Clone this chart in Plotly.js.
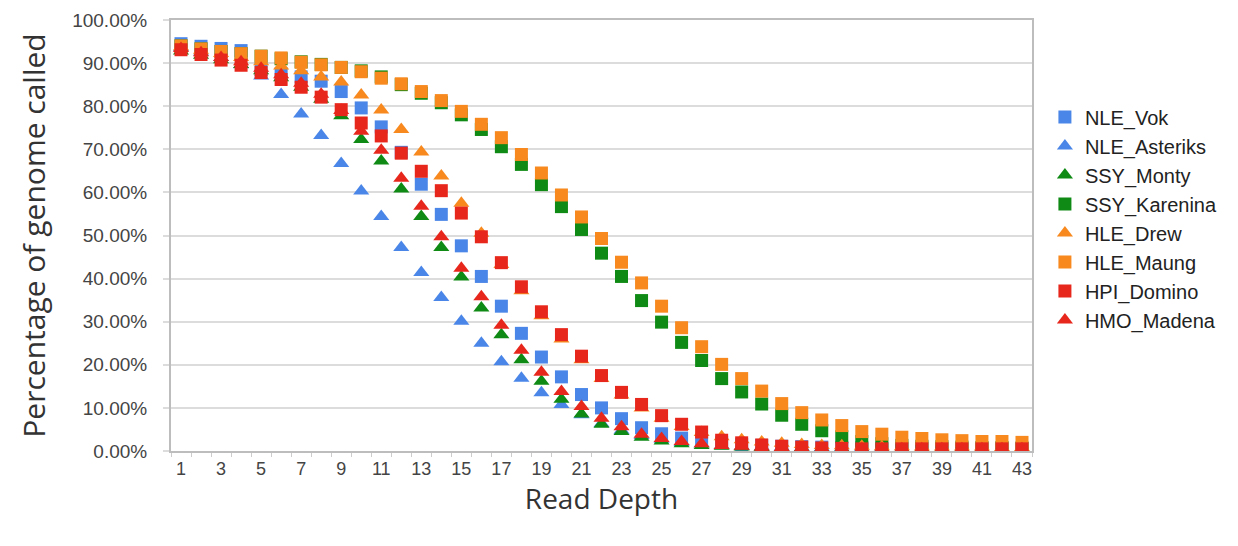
<!DOCTYPE html>
<html>
<head>
<meta charset="utf-8">
<script src="https://cdn.plot.ly/plotly-3.0.1.min.js"></script>
<style>html,body{margin:0;padding:0;background:#fff;}#chart{width:1238px;height:546px;}</style>
</head>
<body>
<div id="chart"></div>
<script>
// Read depth categories
const depths = [1,2,3,4,5,6,7,8,9,10,11,12,13,14,15,16,17,18,19,20,21,22,23,24,25,26,27,28,29,30,31,32,33,34,35,36,37,38,39,40,41,42,43];
const xTickVals = [1,3,5,7,9,11,13,15,17,19,21,23,25,27,29,31,33,35,37,39,41,43];
const yTickVals = [0,10,20,30,40,50,60,70,80,90,100];
const yTickLabels = ['0.00%','10.00%','20.00%','30.00%','40.00%','50.00%','60.00%','70.00%','80.00%','90.00%','100.00%'];

// Percentage of genome called (%)
const NLE_Vok = [94.5,93.9,93.4,92.9,88.5,87.5,86.8,85.8,83.4,79.6,75.2,69.3,61.9,54.9,47.6,40.5,33.6,27.3,21.8,17.2,13.1,10.0,7.5,5.4,4.0,3.0,2.4,1.9,1.5,1.3,1.1,1.0,0.9,0.8,0.8,0.7,0.7,0.7,0.6,0.6,0.6,0.6,0.6];
const NLE_Asteriks = [93.6,92.6,91.3,89.6,87.0,82.7,78.2,73.2,66.7,60.3,54.4,47.2,41.4,35.6,30.1,25.0,20.7,16.9,13.5,10.8,8.4,6.4,4.8,3.6,2.7,2.0,1.6,1.3,1.1,1.0,0.9,0.8,0.8,0.7,0.7,0.7,0.6,0.6,0.6,0.6,0.6,0.6,0.6];
const SSY_Monty = [92.8,91.8,90.8,89.7,88.2,86.6,84.4,81.6,77.8,72.3,67.3,60.8,54.4,47.2,40.4,33.2,27.0,21.2,16.2,12.0,8.6,6.2,4.5,3.2,2.3,1.7,1.3,1.1,0.9,0.8,0.7,0.7,0.6,0.6,0.5,0.5,0.5,0.5,0.5,0.5,0.5,0.5,0.5];
const SSY_Karenina = [94.0,93.3,92.7,92.2,91.6,91.0,90.3,89.7,89.0,88.2,86.8,85.0,83.0,80.8,78.0,74.6,70.6,66.5,61.8,56.7,51.4,45.9,40.5,34.9,29.9,25.2,21.0,16.8,13.7,10.9,8.3,6.2,4.7,3.3,2.2,1.7,1.3,1.1,1.0,0.9,0.8,0.8,0.7];
const HLE_Drew = [93.8,93.0,92.2,91.3,90.3,89.3,88.2,86.8,85.6,82.6,79.1,74.6,69.4,63.8,57.5,50.5,43.3,37.2,31.4,26.0,21.2,16.8,13.0,10.0,7.6,5.7,4.3,3.3,2.6,2.1,1.8,1.5,1.3,1.2,1.1,1.0,1.0,0.9,0.9,0.9,0.9,0.8,0.8];
const HLE_Maung = [94.0,93.3,92.7,92.2,91.6,91.2,90.2,89.6,89.0,88.0,86.5,85.2,83.4,81.3,78.8,75.8,72.7,68.8,64.5,59.4,54.3,49.3,43.8,39.0,33.6,28.6,24.2,20.1,16.8,13.9,11.0,8.9,7.2,5.9,4.5,3.9,3.2,2.9,2.6,2.4,2.2,2.2,2.0];
const HPI_Domino = [93.1,92.0,90.7,89.5,87.8,86.2,84.4,82.1,79.2,76.1,73.1,69.1,64.9,60.4,55.2,49.7,43.7,38.1,32.3,27.0,22.0,17.5,13.6,10.8,8.2,6.2,4.4,2.5,1.9,1.4,1.1,0.9,0.7,0.6,0.5,0.5,0.5,0.5,0.5,0.5,0.5,0.5,0.5];
const HMO_Madena = [93.4,92.4,91.3,90.3,88.8,87.3,85.3,82.8,79.0,74.2,69.8,63.3,56.8,49.7,42.4,35.8,29.2,23.4,18.3,13.8,10.3,7.6,5.6,3.9,2.9,2.2,1.7,1.3,1.1,0.9,0.8,0.7,0.6,0.5,0.5,0.5,0.5,0.5,0.5,0.5,0.5,0.5,0.5];

const BLUE = '#4a86e8', GREEN = '#0f8a14', ORANGE = '#f7891f', RED = '#e8271c';

const series = [
  {name:'NLE_Vok', y:NLE_Vok, color:BLUE, symbol:'square'},
  {name:'NLE_Asteriks', y:NLE_Asteriks, color:BLUE, symbol:'triangle-up'},
  {name:'SSY_Monty', y:SSY_Monty, color:GREEN, symbol:'triangle-up'},
  {name:'SSY_Karenina', y:SSY_Karenina, color:GREEN, symbol:'square'},
  {name:'HLE_Drew', y:HLE_Drew, color:ORANGE, symbol:'triangle-up'},
  {name:'HLE_Maung', y:HLE_Maung, color:ORANGE, symbol:'square'},
  {name:'HPI_Domino', y:HPI_Domino, color:RED, symbol:'square'},
  {name:'HMO_Madena', y:HMO_Madena, color:RED, symbol:'triangle-up'}
];

const traces = series.map(s => ({
  type:'scatter', mode:'markers', name:s.name, x:depths, y:s.y,
  marker:{color:s.color, symbol:s.symbol, size: s.symbol==='square' ? 13 : 14, line:{width:0}},
  hoverinfo:'x+y+name'
}));

const layout = {
  width:1238, height:546,
  paper_bgcolor:'#ffffff', plot_bgcolor:'#ffffff',
  margin:{l:171, r:206, t:20, b:95},
  showlegend:true,
  legend:{x:1.015, xanchor:'left', y:0.82, yanchor:'top',
    font:{family:'Liberation Sans, Arial, sans-serif', size:20, color:'#222'},
    itemwidth:30, tracegroupgap:0, bgcolor:'rgba(0,0,0,0)'},
  xaxis:{
    range:[0.5,43.5], tickmode:'array', tickvals:xTickVals, ticktext:xTickVals.map(String),
    showgrid:false, zeroline:false, showline:true, linecolor:'#bdbdbd', linewidth:2, mirror:true,
    ticks:'', tickfont:{family:'Liberation Sans, Arial, sans-serif', size:18, color:'#444'},
    minor:{ticks:'outside', tick0:0.5, dtick:1, ticklen:4, tickcolor:'#cccccc', tickwidth:1, showgrid:false},
    title:{text:'Read Depth', font:{family:'Open Sans, sans-serif', size:28, color:'#333'}, standoff:1}
  },
  yaxis:{
    range:[0,100], tickmode:'array', tickvals:yTickVals, ticktext:yTickLabels,
    showgrid:true, gridcolor:'#dcdcdc', gridwidth:2, zeroline:false,
    showline:true, linecolor:'#bdbdbd', linewidth:2, mirror:true,
    ticks:'outside', ticklen:6, tickcolor:'#dcdcdc', tickwidth:2, ticklabelstandoff:12,
    tickfont:{family:'Liberation Sans, Arial, sans-serif', size:19, color:'#444'},
    title:{text:'Percentage of genome called', font:{family:'Open Sans, sans-serif', size:30, color:'#333'}, standoff:18}
  }
};

Plotly.newPlot('chart', traces, layout, {displayModeBar:false, staticPlot:true});
</script>
</body>
</html>
